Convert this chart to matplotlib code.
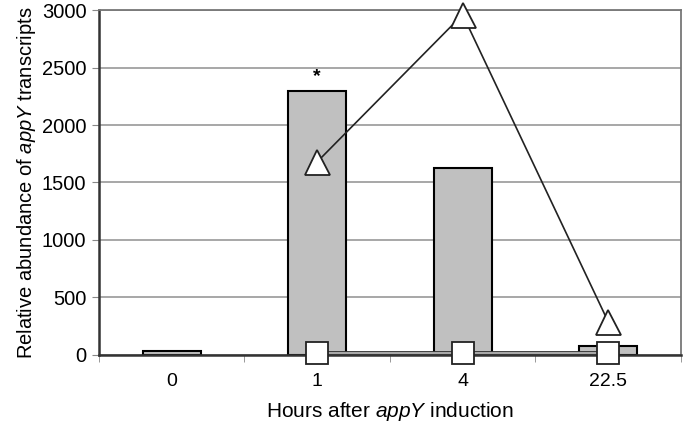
import numpy as np
import matplotlib
matplotlib.use("Agg")
import matplotlib.pyplot as plt

plt.rcParams['font.family'] = ['Liberation Sans', 'DejaVu Sans']
plt.rcParams['mathtext.fontset'] = 'custom'
plt.rcParams['mathtext.rm'] = 'Liberation Sans'
plt.rcParams['mathtext.it'] = 'Liberation Sans:italic'

# data
hours = ['0', '1', '4', '22.5']
bar_vals = [35, 2300, 1630, 80]
tri_vals = [np.nan, 1680, 2960, 290]
sq_vals = [np.nan, 15, 15, 15]

x = np.arange(len(hours))

fig = plt.figure(figsize=(6.85, 4.26), dpi=100)
ax = fig.add_axes([0.1445, 0.1667, 0.8495, 0.8098])

ax.bar(x, bar_vals, width=0.4, color='#c0c0c0', edgecolor='black', linewidth=1.5, zorder=2)

# squares series: gray line with dark outline
ax.plot(x, sq_vals, color='#333333', lw=3.5, zorder=3, solid_capstyle='butt', clip_on=False)
ax.plot(x, sq_vals, color='#a8a8a8', lw=1.5, zorder=3, solid_capstyle='butt', clip_on=False)
ax.plot(x, sq_vals, ls='none', marker='s', ms=16, mfc='white', mec='#222222', mew=1.3,
        zorder=4, clip_on=False)

ax.plot(x, tri_vals, color='#222222', lw=1.2, marker='^', ms=18, mfc='white',
        mec='#222222', mew=1.3, zorder=5, clip_on=False)

ax.text(x[1], bar_vals[1] + 50, '*', ha='center', va='bottom', fontsize=14,
        fontweight='bold', zorder=6)

ax.set_xlim(-0.5, 3.5)
ax.set_ylim(0, 3000)
ax.set_yticks(range(0, 3001, 500))
ax.set_xticks(x)
ax.set_xticklabels(hours)
ax.set_xticks(np.arange(-0.5, 4, 1), minor=True)
ax.tick_params(axis='x', which='major', length=0, labelsize=14, pad=13)
ax.tick_params(axis='x', which='minor', length=5, color='#888888')
ax.tick_params(axis='y', labelsize=14.5, length=5, color='#888888', pad=4)

ax.yaxis.grid(True, color='#a0a0a0', lw=1.3)
ax.set_axisbelow(True)
for s in ['top', 'right']:
    ax.spines[s].set_color('#777777')
    ax.spines[s].set_linewidth(1.3)
for s in ['left', 'bottom']:
    ax.spines[s].set_color('#333333')
    ax.spines[s].set_linewidth(1.8)

ax.set_ylabel(r'Relative abundance of $\it{appY}$ transcripts', fontsize=14.5, labelpad=3)
ax.set_xlabel(r'Hours after $\it{appY}$ induction', fontsize=15, labelpad=7)

fig.savefig('out.png', dpi=100)
